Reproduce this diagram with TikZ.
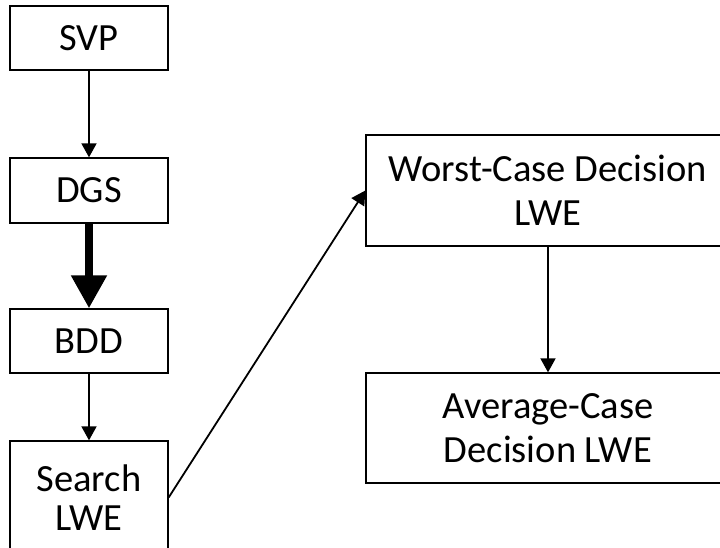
\documentclass[tikz,border=0pt]{standalone}
\usepackage{fontspec}
\setmainfont{Carlito}
\usetikzlibrary{arrows.meta}
\begin{document}
\begin{tikzpicture}[x=1pt,y=-1pt,
  >={Triangle[length=14pt,width=15pt]},
  box/.style={draw,line width=1.3pt,align=center,inner sep=0pt,
    font=\fontsize{38.5}{44}\selectfont}]
\clip (0,0) rectangle (720,548);
\useasboundingbox (0,0) rectangle (720,548);
\node[box,minimum width=158,minimum height=64](svp) at (89,38){SVP};
\node[box,minimum width=158,minimum height=65](dgs) at (89,190.5){DGS};
\node[box,minimum width=158,minimum height=64](bdd) at (89,341){BDD};
\node[box,minimum width=158,minimum height=113,font=\fontsize{38.5}{39}\selectfont](lwe) at (89,497.5){Search\\LWE};
\node[box,minimum width=364,minimum height=111](wc) at (548,190.5){Worst-Case Decision\\LWE};
\node[box,minimum width=364,minimum height=110](ac) at (548,428){Average-Case\\Decision LWE};
\draw[->,line width=1.8pt](svp)--(dgs);
\draw[-{Triangle[length=33pt,width=34pt]},line width=8pt](dgs)--(bdd);
\draw[->,line width=1.8pt](bdd)--(lwe);
\draw[->,line width=1.8pt](lwe.east)--(wc.west);
\draw[->,line width=1.8pt](wc)--(ac);
\end{tikzpicture}
\end{document}
